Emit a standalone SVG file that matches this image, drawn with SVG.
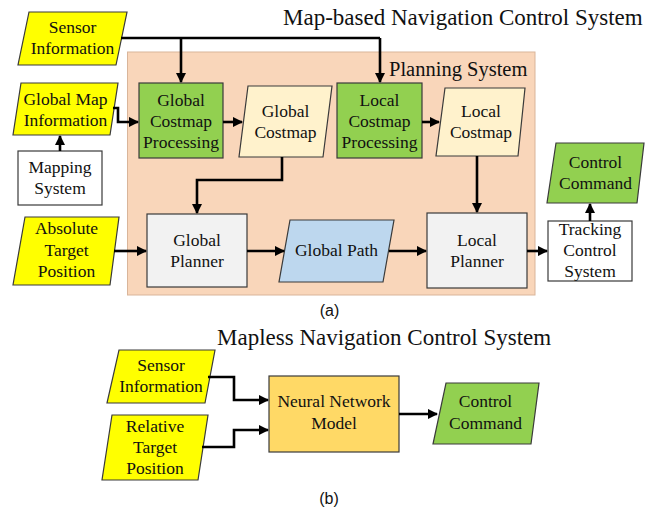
<svg xmlns="http://www.w3.org/2000/svg" width="658" height="509" viewBox="0 0 658 509">
<defs>
<marker id="ah" viewBox="0 0 10 10" refX="9" refY="5" markerWidth="4" markerHeight="4" markerUnits="strokeWidth" orient="auto">
<path d="M0,0 L10,5 L0,10 z" fill="#000"/>
</marker>
<style>
text{font-family:"Liberation Serif","Times New Roman",serif;font-size:17.5px;fill:#111;text-anchor:middle}
.title{font-size:23px;text-anchor:start}
.sub{font-family:"Liberation Sans",Arial,sans-serif;font-size:16px}
.box{stroke:#3a3a3a;stroke-width:1.2}
.yel{fill:#FFFF00}
.grn{fill:#92D050}
.cream{fill:#FFF2CC}
.gray{fill:#F2F2F2}
.blue{fill:#BDD7EE}
.white{fill:#FFFFFF}
.gold{fill:#FFD966}
.conn path{fill:none;stroke:#000;stroke-width:2.6;marker-end:url(#ah)}
.conn path.nm{marker-end:none}
</style>
</defs>
<rect width="658" height="509" fill="#fff"/>

<g id="planning-system">
<rect x="127.5" y="52" width="407.5" height="243" fill="#F9D6BA" stroke="#D9B59A" stroke-width="1"/>
<text class="title" x="389" y="76" style="font-size:20.5px">Planning System</text>
</g>

<text class="title" x="283" y="25">Map-based Navigation Control System</text>

<g id="sensor-a">
<polygon class="box yel" points="29,12 127,12 116,65 18,65"/>
<text x="72.5" y="33">Sensor</text>
<text x="72.5" y="54">Information</text>
</g>
<g id="global-map">
<polygon class="box yel" points="21,83 118,83 110,135 13,135"/>
<text x="65.5" y="105">Global Map</text>
<text x="65.5" y="126">Information</text>
</g>
<g id="mapping-system">
<rect class="box white" x="18" y="151" width="84" height="54"/>
<text x="60" y="173">Mapping</text>
<text x="60" y="194">System</text>
</g>
<g id="global-costmap-processing">
<rect class="box grn" x="139" y="83" width="84" height="75"/>
<text x="181" y="106">Global</text>
<text x="181" y="127">Costmap</text>
<text x="181" y="148">Processing</text>
</g>
<g id="global-costmap">
<polygon class="box cream" points="248,86 332,86 323,157 239,157"/>
<text x="285.5" y="117">Global</text>
<text x="285.5" y="138">Costmap</text>
</g>
<g id="local-costmap-processing">
<rect class="box grn" x="337" y="83" width="85" height="75"/>
<text x="379.5" y="106">Local</text>
<text x="379.5" y="127">Costmap</text>
<text x="379.5" y="148">Processing</text>
</g>
<g id="local-costmap">
<polygon class="box cream" points="445,88 525,88 518,156 436,156"/>
<text x="481" y="117">Local</text>
<text x="481" y="138">Costmap</text>
</g>
<g id="control-command-a">
<polygon class="box grn" points="556,143 644,143 637,203 547,203"/>
<text x="595.5" y="168">Control</text>
<text x="595.5" y="189">Command</text>
</g>
<g id="absolute-target">
<polygon class="box yel" points="25,217 119,217 110,285 13,285"/>
<text x="66.5" y="234">Absolute</text>
<text x="66.5" y="256">Target</text>
<text x="66.5" y="277">Position</text>
</g>
<g id="global-planner">
<rect class="box gray" x="147" y="214" width="100" height="73"/>
<text x="197" y="246">Global</text>
<text x="197" y="267">Planner</text>
</g>
<g id="global-path">
<polygon class="box blue" points="290,220 394,220 383,282 279,282"/>
<text x="336.5" y="256">Global Path</text>
</g>
<g id="local-planner">
<rect class="box gray" x="427" y="213" width="100" height="75"/>
<text x="477" y="246">Local</text>
<text x="477" y="267">Planner</text>
</g>
<g id="tracking-control">
<rect class="box white" x="548" y="221" width="84" height="60"/>
<text x="590" y="235">Tracking</text>
<text x="590" y="256">Control</text>
<text x="590" y="277">System</text>
</g>

<text class="sub" x="329.5" y="316">(a)</text>

<text class="title" x="217" y="345">Mapless Navigation Control System</text>

<g id="sensor-b">
<polygon class="box yel" points="119,350 215,350 205,403 107,403"/>
<text x="161" y="371">Sensor</text>
<text x="161" y="392">Information</text>
</g>
<g id="relative-target">
<polygon class="box yel" points="112,415 208,415 198,480 102,480"/>
<text x="155" y="432">Relative</text>
<text x="155" y="453">Target</text>
<text x="155" y="474">Position</text>
</g>
<g id="neural-network">
<rect class="box gold" x="269" y="376" width="130" height="76"/>
<text x="334" y="407">Neural Network</text>
<text x="334" y="429">Model</text>
</g>
<g id="control-command-b">
<polygon class="box grn" points="446,383 539,383 531,444 433,444"/>
<text x="485.5" y="407">Control</text>
<text x="485.5" y="429">Command</text>
</g>

<text class="sub" x="329" y="504">(b)</text>

<g id="connectors" class="conn">
<path class="nm" d="M121,38 H380"/>
<path d="M181,38 V82"/>
<path d="M380,38 V82"/>
<path d="M113,108 H118 V122 H138"/>
<path d="M60,151 V136"/>
<path d="M223,122 H242"/>
<path d="M422,122 H439"/>
<path d="M282,157 V180 H197 V213"/>
<path d="M477,156 V212"/>
<path d="M114,251 H146"/>
<path d="M247,251 H284"/>
<path d="M389,251 H426"/>
<path d="M527,251 H547"/>
<path d="M590,221 V204"/>
<path d="M208,377 H234 V400 H268"/>
<path d="M202,447 H234 V430 H268"/>
<path d="M399,414 H437"/>
</g>
</svg>
